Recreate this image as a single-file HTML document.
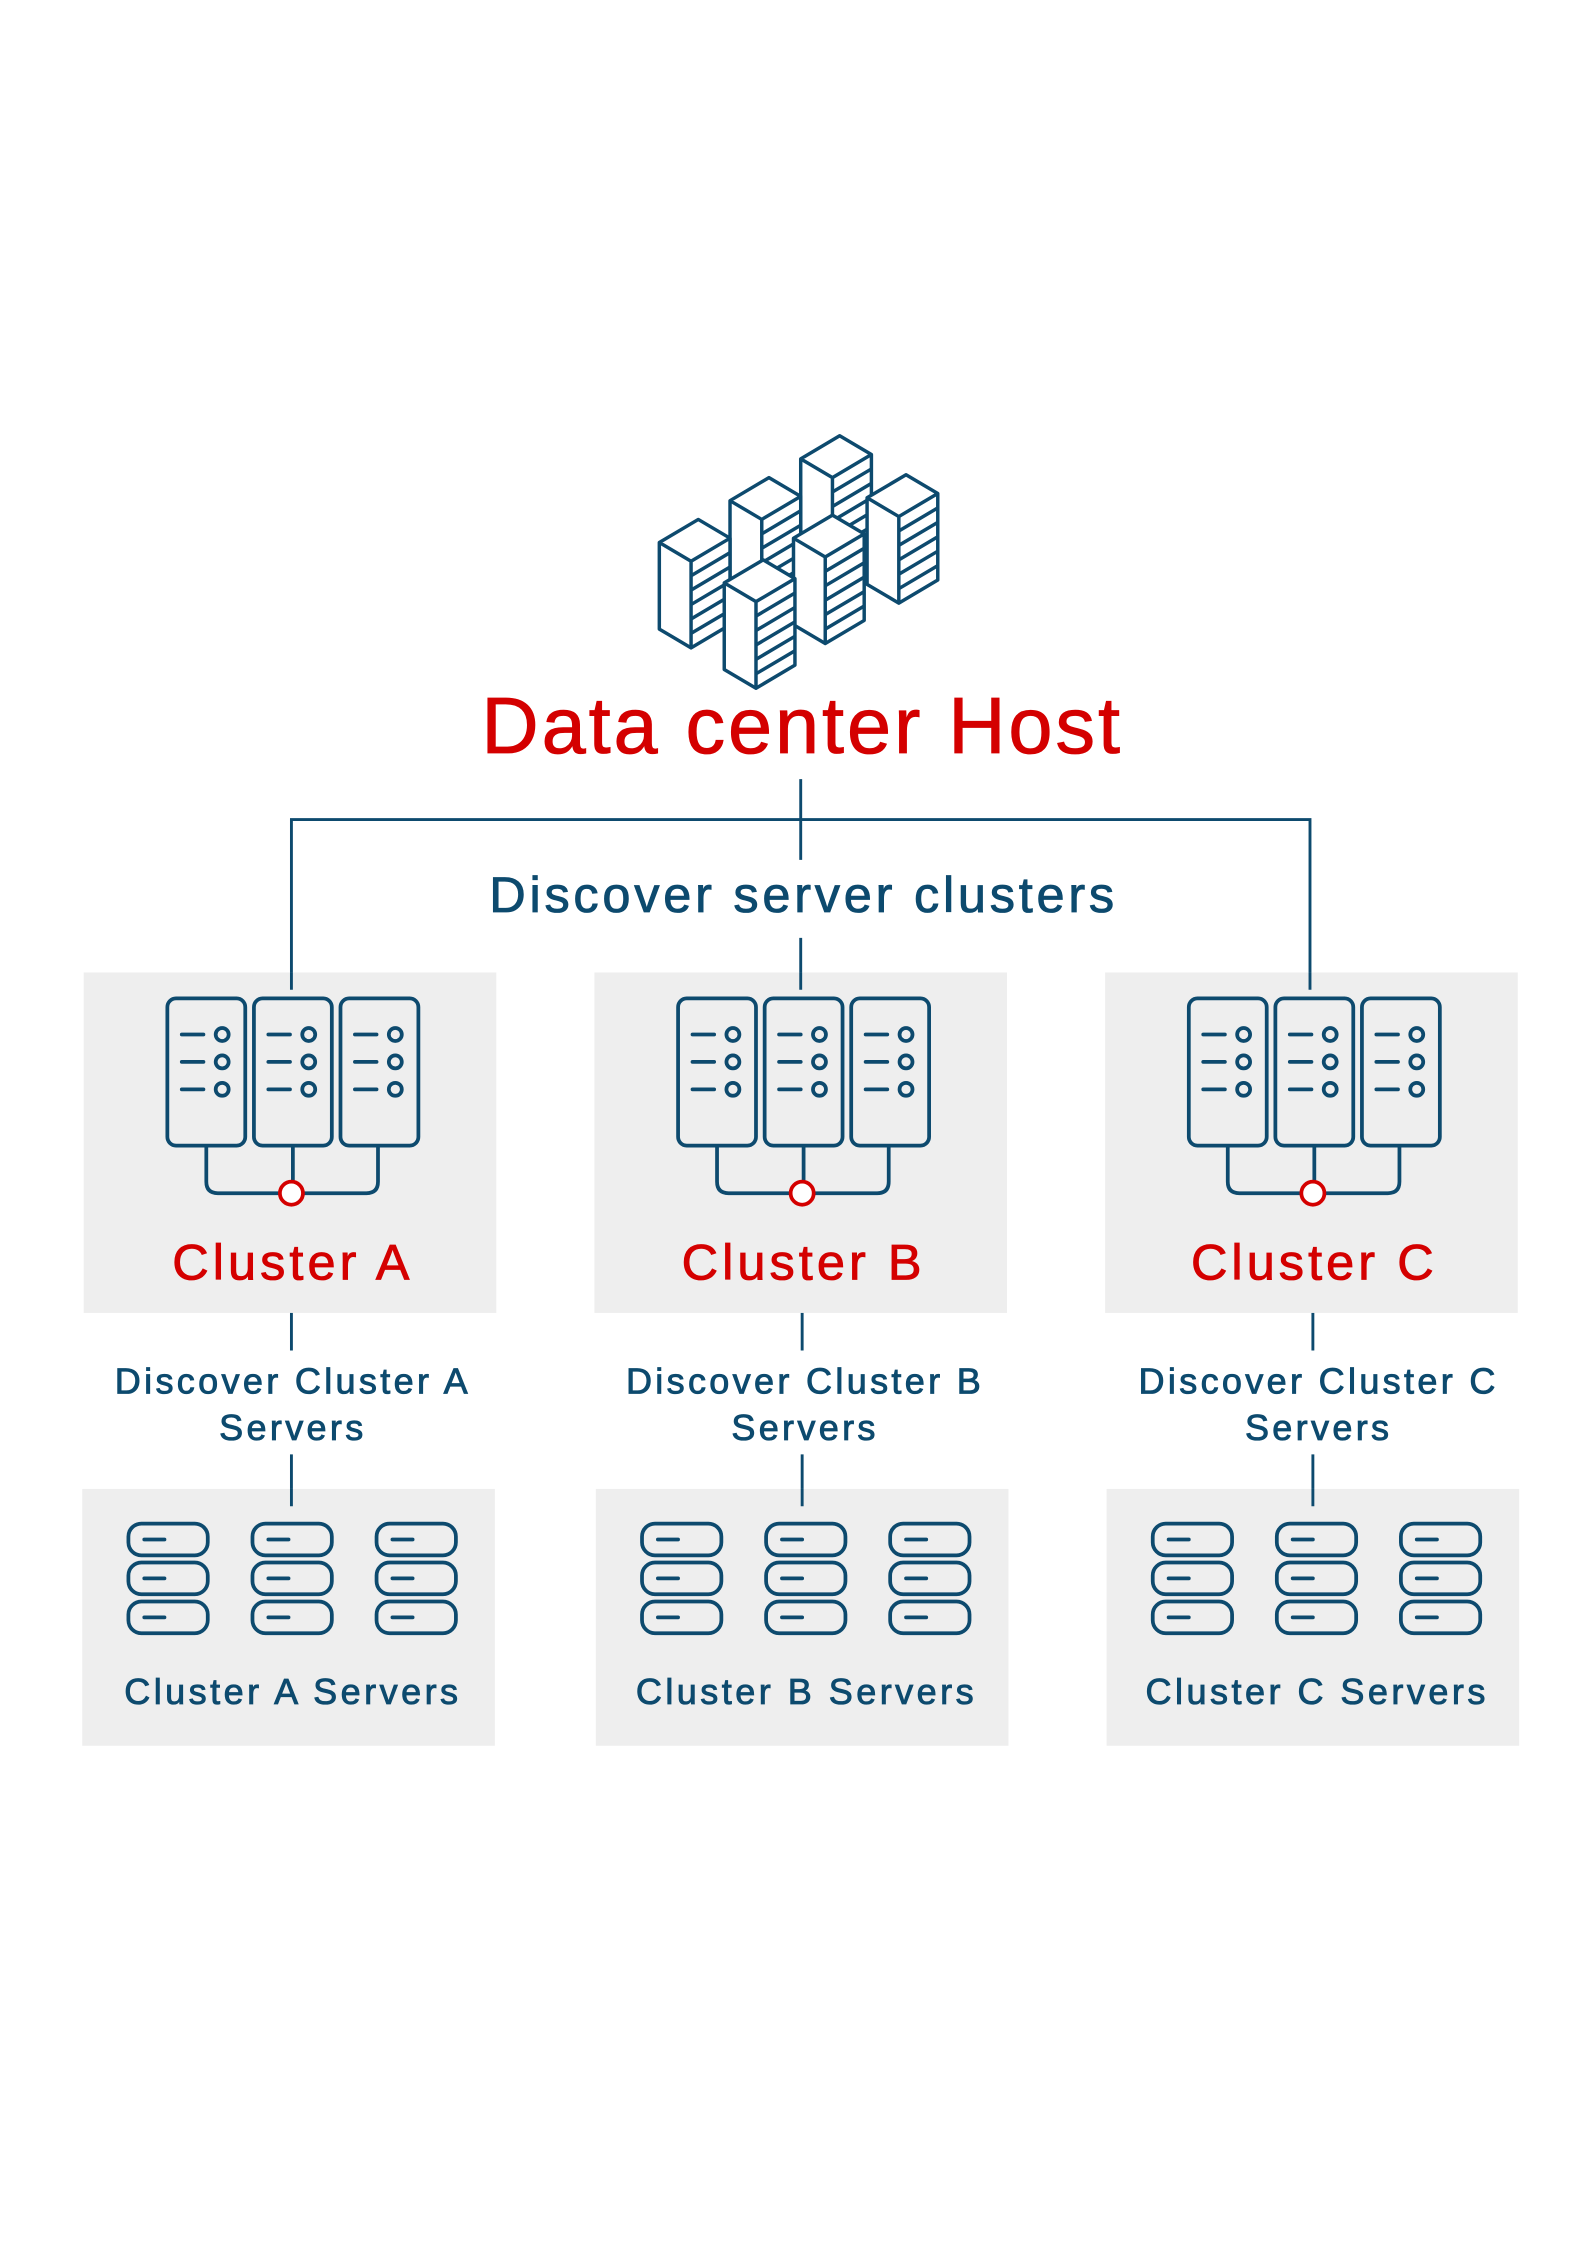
<!DOCTYPE html>
<html><head><meta charset="utf-8"><style>
html,body{margin:0;padding:0;background:#fff;}
svg{display:block;}
text{font-family:"Liberation Sans",sans-serif;text-anchor:middle;stroke-width:0.6;}
</style></head><body>
<svg width="1587" height="2245" viewBox="0 0 1100 1556" xmlns="http://www.w3.org/2000/svg">
<defs>
<g id="tower" fill="#fff" stroke="#0d4a6e" stroke-width="2.4" stroke-linejoin="round">
  <path d="M0,16 L27,0 L49,13 L49,73 L22,89 L0,76 Z"/>
  <path d="M0,16 L22,29 L49,13 M22,29 L22,89"/>
  <path d="M22,39 L49,23 M22,49 L49,33 M22,59 L49,43 M22,69 L49,53 M22,79 L49,63" fill="none"/>
</g>
<g id="rack" fill="none" stroke="#0d4a6e" stroke-width="2.6" stroke-linecap="round">
  <rect x="0" y="0" width="54" height="102" rx="6"/>
  <path d="M10,25 H25 M10,44 H25 M10,63 H25"/>
  <circle cx="38" cy="25" r="4.5"/><circle cx="38" cy="44" r="4.5"/><circle cx="38" cy="63" r="4.5"/>
</g>
<g id="cluster">
  <use href="#rack" x="-86"/><use href="#rack" x="-26"/><use href="#rack" x="34"/>
  <path d="M-59,102 V127 Q-59,135 -51,135 H52 Q60,135 60,127 V102 M1,102 V126" fill="none" stroke="#0d4a6e" stroke-width="2.6"/>
  <circle cx="0" cy="135" r="8" fill="#fff" stroke="#d40000" stroke-width="2.6"/>
</g>
<g id="stack" fill="none" stroke="#0d4a6e" stroke-width="2.6" stroke-linecap="round">
  <rect x="0" y="0" width="55" height="22" rx="9"/>
  <rect x="0" y="27" width="55" height="22" rx="9"/>
  <rect x="0" y="54" width="55" height="22" rx="9"/>
  <path d="M11,11 H25 M11,38 H25 M11,65 H25"/>
</g>
<g id="stacks">
  <use href="#stack" x="-113"/><use href="#stack" x="-27"/><use href="#stack" x="59"/>
</g>
</defs>

<use href="#tower" x="555" y="302"/>
<use href="#tower" x="506" y="331"/>
<use href="#tower" x="601" y="329"/>
<use href="#tower" x="457" y="360"/>
<use href="#tower" x="550" y="357"/>
<use href="#tower" x="502" y="388"/>

<text x="556" y="522" font-size="55" letter-spacing="2" fill="#d40000" stroke="#d40000">Data center Host</text>

<g stroke="#0d4a6e" stroke-width="2" fill="none">
  <path d="M555,540 V596 M202,686 V568 H908 V686 M555,650 V686"/>
  <path d="M202,900 V936 M202,1008 V1044 M556,900 V936 M556,1008 V1044 M910,900 V936 M910,1008 V1044"/>
</g>
<text x="557" y="632" font-size="35" letter-spacing="2.6" fill="#0d4a6e" stroke="#0d4a6e">Discover server clusters</text>

<rect x="58" y="674" width="286" height="236" fill="#eeeeee"/>
<rect x="412" y="674" width="286" height="236" fill="#eeeeee"/>
<rect x="766" y="674" width="286" height="236" fill="#eeeeee"/>
<path d="M202,674 V686 M555,674 V686 M908,674 V686" stroke="#0d4a6e" stroke-width="2"/>

<use href="#cluster" x="202" y="692"/>
<use href="#cluster" x="556" y="692"/>
<use href="#cluster" x="910" y="692"/>

<g font-size="35" letter-spacing="2.8" fill="#d40000" stroke="#d40000">
<text x="203" y="887">Cluster A</text>
<text x="557" y="887">Cluster B</text>
<text x="911" y="887">Cluster C</text>
</g>

<g font-size="25" letter-spacing="2.3" fill="#0d4a6e" stroke="#0d4a6e">
<text x="203" y="966">Discover Cluster A</text><text x="203" y="998">Servers</text>
<text x="558" y="966">Discover Cluster B</text><text x="558" y="998">Servers</text>
<text x="914" y="966">Discover Cluster C</text><text x="914" y="998">Servers</text>
</g>

<rect x="57" y="1032" width="286" height="178" fill="#eeeeee"/>
<rect x="413" y="1032" width="286" height="178" fill="#eeeeee"/>
<rect x="767" y="1032" width="286" height="178" fill="#eeeeee"/>
<path d="M202,1032 V1044 M556,1032 V1044 M910,1032 V1044" stroke="#0d4a6e" stroke-width="2"/>

<use href="#stacks" x="202" y="1056"/>
<use href="#stacks" x="558" y="1056"/>
<use href="#stacks" x="912" y="1056"/>

<g font-size="25" letter-spacing="2.4" fill="#0d4a6e" stroke="#0d4a6e">
<text x="203" y="1181">Cluster A Servers</text>
<text x="559" y="1181">Cluster B Servers</text>
<text x="913" y="1181">Cluster C Servers</text>
</g>
</svg>
</body></html>
